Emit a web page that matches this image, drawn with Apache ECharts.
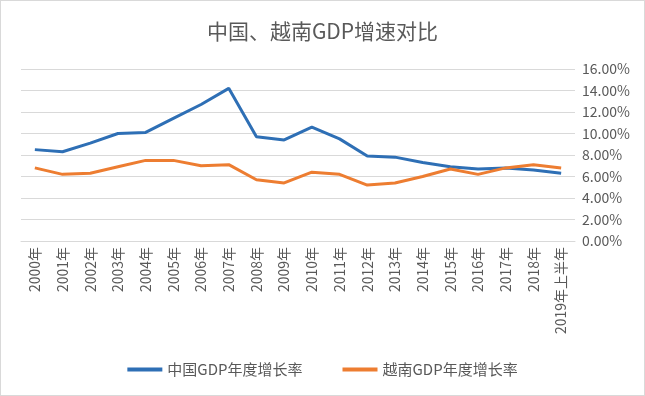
<!DOCTYPE html>
<html>
<head>
<meta charset="utf-8">
<script src="https://cdn.jsdelivr.net/npm/echarts@6/dist/echarts.min.js"></script>
<style>
  html, body { margin: 0; padding: 0; background: #fff; }
  #main { width: 643px; height: 394px; border: 1px solid #d9d9d9; }
</style>
</head>
<body>
<div id="main"></div>
<script>
// 数据
var years = ['2000年', '2001年', '2002年', '2003年', '2004年', '2005年', '2006年', '2007年', '2008年', '2009年',
  '2010年', '2011年', '2012年', '2013年', '2014年', '2015年', '2016年', '2017年', '2018年', '2019年上半年'];
var china = [8.5, 8.3, 9.1, 10.0, 10.1, 11.4, 12.7, 14.2, 9.7, 9.4,
  10.6, 9.5, 7.9, 7.8, 7.3, 6.9, 6.7, 6.8, 6.6, 6.3];
var vietnam = [6.8, 6.2, 6.3, 6.9, 7.5, 7.5, 7.0, 7.1, 5.7, 5.4,
  6.4, 6.2, 5.2, 5.4, 6.0, 6.7, 6.2, 6.8, 7.1, 6.8];
var names = ['中国GDP年度增长率', '越南GDP年度增长率'];

var myChart = echarts.init(document.getElementById('main'));
var font = '"Noto Sans CJK SC", "Liberation Sans", sans-serif';

var option = {
  backgroundColor: '#fff',
  title: {
    text: '中国、越南GDP增速对比',
    left: 'center',
    top: 15,
    textStyle: { fontSize: 21, fontWeight: 'normal', color: '#595959', fontFamily: font }
  },
  legend: {
    bottom: 13,
    left: 'center',
    itemGap: 40,
    itemWidth: 35,
    itemHeight: 4,
    icon: 'rect',
    textStyle: { fontSize: 15, color: '#595959', fontFamily: font },
    data: names
  },
  grid: {
    left: 20,
    right: 69,
    top: 68,
    bottom: 154
  },
  xAxis: {
    type: 'category',
    data: years,
    boundaryGap: true,
    axisLine: { lineStyle: { color: '#d9d9d9' } },
    axisTick: { show: false },
    axisLabel: {
      rotate: 90,
      interval: 0,
      fontSize: 14,
      color: '#595959',
      fontFamily: font,
      margin: 6
    }
  },
  yAxis: {
    type: 'value',
    position: 'right',
    min: 0,
    max: 16,
    interval: 2,
    axisLine: { show: false },
    axisTick: { show: false },
    splitLine: { lineStyle: { color: '#d9d9d9' } },
    axisLabel: {
      fontSize: 14,
      color: '#595959',
      fontFamily: font,
      margin: 7,
      formatter: function (v) { return v.toFixed(2) + '%'; }
    }
  },
  series: [{
    name: names[0],
    type: 'line',
    data: china,
    symbol: 'none',
    lineStyle: { width: 3, color: '#2e6fb5' },
    itemStyle: { color: '#2e6fb5' }
  }, {
    name: names[1],
    type: 'line',
    data: vietnam,
    symbol: 'none',
    lineStyle: { width: 3, color: '#ed7d31' },
    itemStyle: { color: '#ed7d31' }
  }]
};
myChart.setOption(option);
</script>
</body>
</html>
